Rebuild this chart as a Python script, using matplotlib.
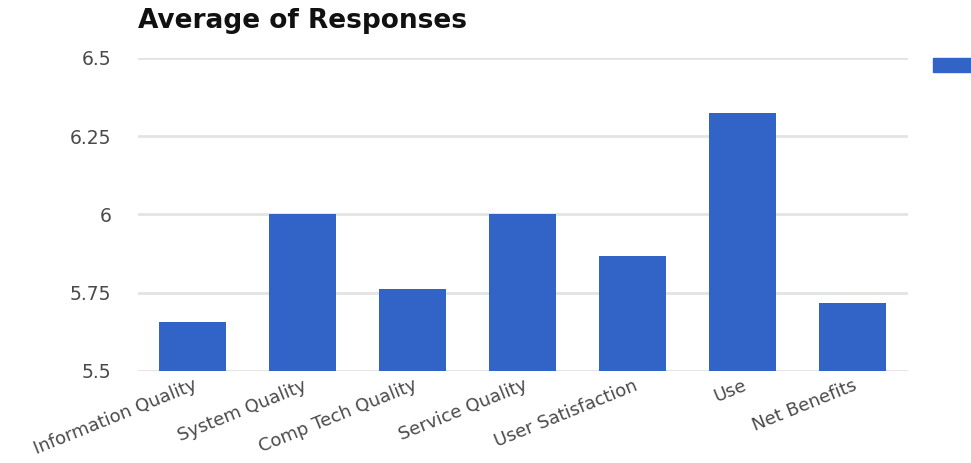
import matplotlib.pyplot as plt
from matplotlib.patches import Rectangle

plt.rcParams['font.family'] = ['DejaVu Sans']

categories = ['Information Quality', 'System Quality', 'Comp Tech Quality',
              'Service Quality', 'User Satisfaction', 'Use', 'Net Benefits']
averages = [5.657, 6.0, 5.762, 6.0, 5.867, 6.324, 5.717]
y_ticks = [5.5, 5.75, 6.0, 6.25, 6.5]
y_tick_labels = ['5.5', '5.75', '6', '6.25', '6.5']

bar_color = '#3264c8'

fig = plt.figure(figsize=(9.71, 4.63), dpi=100)
ax = fig.add_axes([0.142, 0.199, 0.793, 0.676])

ax.bar(range(len(categories)), averages, width=0.61, color=bar_color, zorder=3)

ax.set_xlim(-0.5, len(categories) - 0.5)
ax.set_ylim(5.5, 6.5)
ax.set_yticks(y_ticks)
ax.set_yticklabels(y_tick_labels)
ax.set_xticks(range(len(categories)))
ax.set_xticklabels(categories, rotation=22, ha='right', rotation_mode='anchor')

ax.grid(axis='y', color='#e3e3e3', linewidth=2, zorder=0)
ax.set_axisbelow(True)
for s in ax.spines.values():
    s.set_visible(False)
ax.tick_params(axis='y', length=0, pad=19, labelsize=13.5, labelcolor='#4a4a4a')
ax.tick_params(axis='x', length=0, pad=4, labelsize=13, labelcolor='#4a4a4a')

fig.text(0.142, 0.955, 'Average of Responses', fontsize=19, fontweight='bold',
         va='center', ha='left', color='#111111')

# legend swatch, clipped at the right edge
fig.patches.append(Rectangle((933 / 971, 1 - 72 / 463), 45 / 971, 14 / 463,
                             transform=fig.transFigure, color=bar_color))

fig.savefig('out.png', dpi=100)
